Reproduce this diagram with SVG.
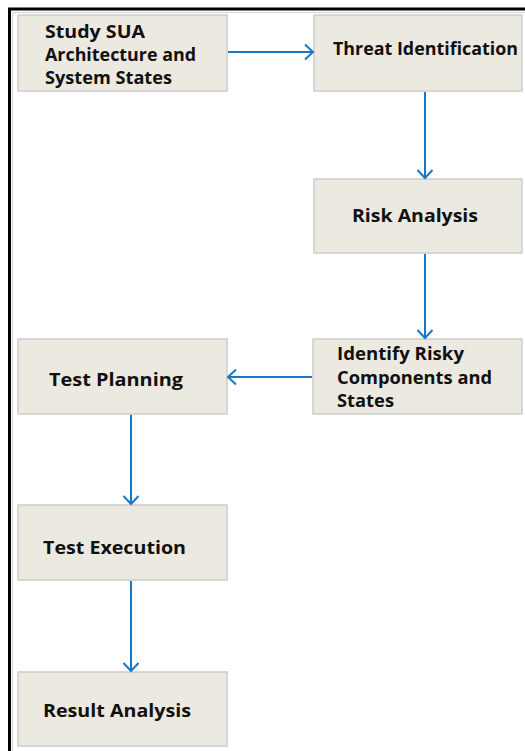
<svg xmlns="http://www.w3.org/2000/svg" width="525" height="751" viewBox="0 0 525 751">
  <style>
    .box { fill: #ece9e0; stroke: #cccccc; stroke-width: 1.5; }
    .lbl { font-family: "Open Sans", "DejaVu Sans", sans-serif; font-weight: bold; font-size: 17px; fill: #111111; }
    .flow { stroke: #1a78c9; stroke-width: 2; fill: none; }
  </style>
  <defs>
    <marker id="arrow" markerUnits="userSpaceOnUse" markerWidth="16" markerHeight="18" refX="10" refY="9" orient="auto">
      <path d="M2,1.5 L10,9 L2,16.5" fill="none" stroke="#1a78c9" stroke-width="2"/>
    </marker>
  </defs>

  <rect x="0" y="0" width="525" height="751" fill="#ffffff"/>

  <!-- outer frame: left and top edges -->
  <g id="frame">
    <line x1="9.5" y1="9" x2="9.5" y2="751" stroke="#000000" stroke-width="3"/>
    <line x1="8" y1="9" x2="525" y2="9" stroke="#000000" stroke-width="3"/>
    <line x1="12.5" y1="12" x2="12.5" y2="751" stroke="#d6d6d6" stroke-width="1"/>
    <line x1="12" y1="12.5" x2="525" y2="12.5" stroke="#d6d6d6" stroke-width="1"/>
  </g>

  <g id="study">
    <rect class="box" x="18" y="15" width="209" height="76"/>
    <text class="lbl" x="45" y="38" textLength="100" lengthAdjust="spacingAndGlyphs">Study SUA</text>
    <text class="lbl" x="45" y="61" textLength="151" lengthAdjust="spacingAndGlyphs">Architecture and</text>
    <text class="lbl" x="45" y="84" textLength="127" lengthAdjust="spacingAndGlyphs">System States</text>
  </g>

  <g id="threat">
    <rect class="box" x="314" y="15" width="208" height="76"/>
    <text class="lbl" x="333" y="55" textLength="185" lengthAdjust="spacingAndGlyphs">Threat Identification</text>
  </g>

  <g id="risk">
    <rect class="box" x="314" y="179" width="208" height="74"/>
    <text class="lbl" x="352" y="222" textLength="126" lengthAdjust="spacingAndGlyphs">Risk Analysis</text>
  </g>

  <g id="identify">
    <rect class="box" x="313" y="339" width="209" height="75"/>
    <text class="lbl" x="337" y="360" textLength="127" lengthAdjust="spacingAndGlyphs">Identify Risky</text>
    <text class="lbl" x="337" y="384" textLength="155" lengthAdjust="spacingAndGlyphs">Components and</text>
    <text class="lbl" x="337" y="407" textLength="57" lengthAdjust="spacingAndGlyphs">States</text>
  </g>

  <g id="planning">
    <rect class="box" x="18" y="339" width="209" height="75"/>
    <text class="lbl" x="49" y="386" textLength="134" lengthAdjust="spacingAndGlyphs">Test Planning</text>
  </g>

  <g id="execution">
    <rect class="box" x="18" y="505" width="209" height="75"/>
    <text class="lbl" x="43" y="554" textLength="143" lengthAdjust="spacingAndGlyphs">Test Execution</text>
  </g>

  <g id="result">
    <rect class="box" x="18" y="672" width="209" height="74"/>
    <text class="lbl" x="43" y="717" textLength="148" lengthAdjust="spacingAndGlyphs">Result Analysis</text>
  </g>

  <g id="connectors">
    <line class="flow" x1="228" y1="52" x2="313" y2="52" marker-end="url(#arrow)"/>
    <line class="flow" x1="425" y1="92" x2="425" y2="178" marker-end="url(#arrow)"/>
    <line class="flow" x1="425" y1="254" x2="425" y2="338" marker-end="url(#arrow)"/>
    <line class="flow" x1="312" y1="377" x2="228" y2="377" marker-end="url(#arrow)"/>
    <line class="flow" x1="131" y1="415" x2="131" y2="504" marker-end="url(#arrow)"/>
    <line class="flow" x1="131" y1="581" x2="131" y2="671" marker-end="url(#arrow)"/>
  </g>
</svg>
